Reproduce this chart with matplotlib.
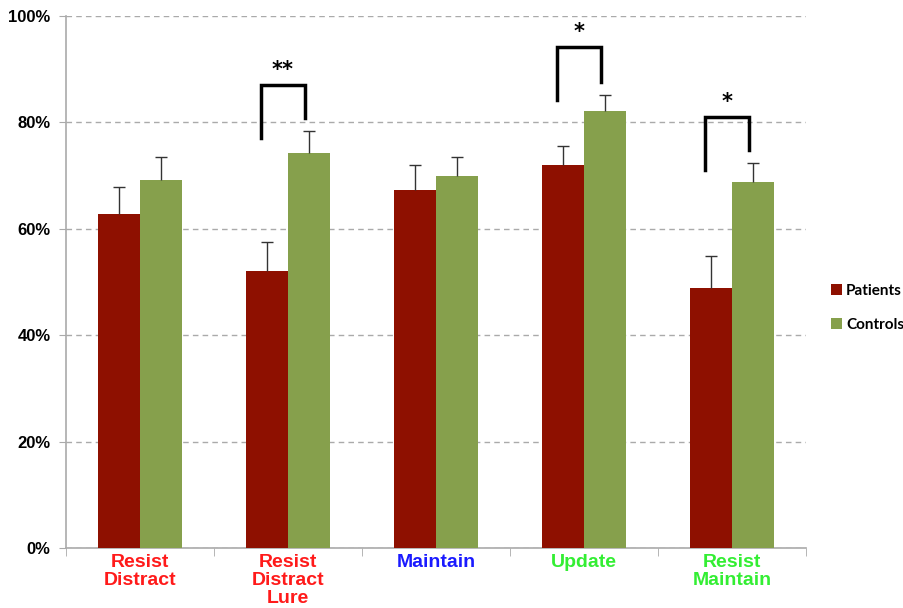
import numpy as np
import matplotlib.pyplot as plt
from matplotlib.ticker import FixedLocator, PercentFormatter

# ---- Données ---- #
categories = ["Resist\nDistract", "Resist\nDistract\nLure", "Maintain", "Update", "Resist\nMaintain"]
couleurs_cat = ["#ff1a1a", "#ff1a1a", "#1a1aff", "#33ee33", "#33ee33"]
patients = [62.8, 52.0, 67.3, 71.9, 48.8]
patients_err = [5.0, 5.5, 4.7, 3.7, 6.0]
controles = [69.2, 74.2, 70.0, 82.2, 68.8]
controles_err = [4.3, 4.2, 3.5, 3.0, 3.6]

# crochets de significativité : (indice catégorie, bas gauche, haut, bas droit, étoiles)
crochets = [(1, 77.0, 87.0, 80.8, "**"),
            (3, 84.2, 94.2, 87.6, "*"),
            (4, 71.0, 81.0, 74.8, "*")]

rouge = "#8e1000"
vert = "#86a04c"

fig = plt.figure(figsize=(9.04, 6.08), dpi=100)
ax = fig.add_axes([0.073, 0.0987, 0.8186, 0.875])

x = np.arange(len(categories))
w = 0.285
for dx, vals, errs, c, lab in [(-w / 2, patients, patients_err, rouge, "Patients"),
                               (w / 2, controles, controles_err, vert, "Controls")]:
    ax.bar(x + dx, vals, w, color=c, label=lab, zorder=3)
    hauts = np.array(vals) + np.array(errs)
    # barres d'erreur seulement vers le haut
    ax.vlines(x + dx, vals, hauts, color="#333333", lw=1, zorder=4)
    ax.plot(x + dx, hauts, ls="none", marker="_", ms=9, mew=1, color="#333333", zorder=4)

for i, bas_g, haut, bas_d, etoiles in crochets:
    xg = i - w / 2 - 0.04
    xd = i + w / 2 - 0.03
    ax.plot([xg, xg, xd, xd], [bas_g, haut, haut, bas_d], color="black", lw=2.5,
            solid_joinstyle="miter", zorder=4, clip_on=False)
    ax.text((xg + xd) / 2, haut + 1.0, etoiles, ha="center", va="bottom",
            fontsize=15, fontweight="bold", family="DejaVu Sans")

ax.set_xlim(-0.5, len(categories) - 0.5)
ax.set_ylim(0, 100)
ax.yaxis.set_major_locator(FixedLocator([0, 20, 40, 60, 80, 100]))
ax.yaxis.set_major_formatter(PercentFormatter(decimals=0))
ax.grid(axis="y", color="#aaaaaa", ls=(0, (4, 3)), lw=1, zorder=0)

ax.set_xticks(x)
ax.set_xticklabels(categories, fontsize=14, fontweight="bold", family="Liberation Sans",
                   linespacing=1.1, va="top")
for lab, c in zip(ax.get_xticklabels(), couleurs_cat):
    lab.set_color(c)
ax.tick_params(axis="x", which="major", length=0, pad=4)
ax.set_xticks(np.arange(-0.5, len(categories)), minor=True)
ax.tick_params(axis="x", which="minor", length=6, color="#aaaaaa", direction="out")
ax.tick_params(axis="y", length=5, color="#aaaaaa", direction="out", labelsize=12, pad=6)
for lab in ax.get_yticklabels():
    lab.set_fontweight("bold")
    lab.set_family("Liberation Sans")

for s in ["top", "right"]:
    ax.spines[s].set_visible(False)
for s in ["left", "bottom"]:
    ax.spines[s].set_color("#aaaaaa")
    ax.spines[s].set_linewidth(1.2)

fig.legend(loc="upper left", bbox_to_anchor=(0.913, 0.543), frameon=False, borderaxespad=0,
           handlelength=0.7, handleheight=0.7, handletextpad=0.25, labelspacing=1.3,
           prop=dict(family="Lato", weight="bold", size=11))

fig.savefig("out.png", dpi=100)
